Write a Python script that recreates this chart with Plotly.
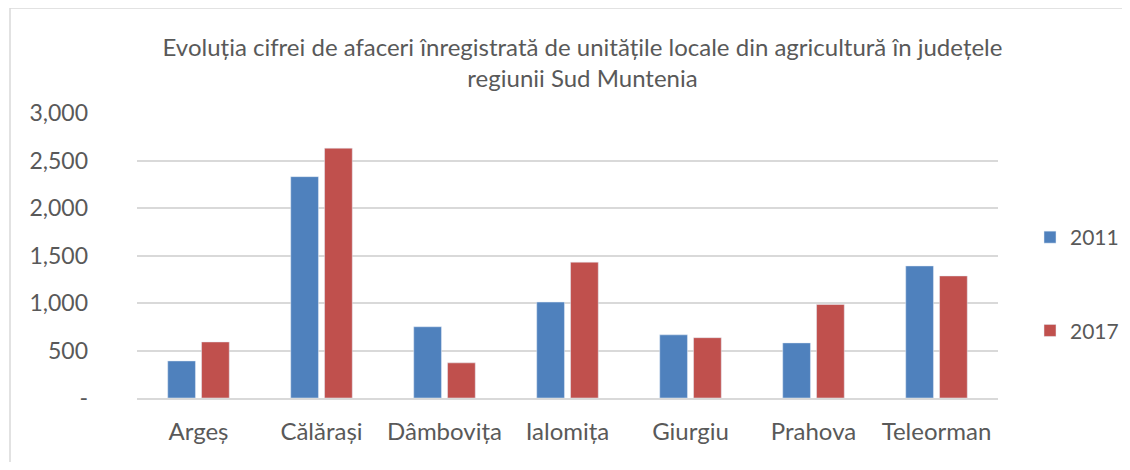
import plotly.graph_objects as go

categories = ["Argeș", "Călărași", "Dâmbovița", "Ialomița", "Giurgiu", "Prahova", "Teleorman"]
values_2011 = [390, 2330, 750, 1010, 665, 580, 1390]
values_2017 = [590, 2630, 370, 1430, 635, 985, 1285]
tick_vals = [0, 500, 1000, 1500, 2000, 2500, 3000]
tick_text = ["-", "500", "1,000", "1,500", "2,000", "2,500", "3,000"]

OFF = 8  # page body margin
W, H = 1130 - OFF, 470 - 2 * OFF
# target plot area in window pixels: x 137..998, y 113..398
L, T = 137 - OFF, 113 - OFF
R = W - (998 - OFF)
B = H - (398 - OFF)
pw, ph = W - L - R, H - T - B

def px(x):
    return (x - OFF - L) / pw

def py(y):
    return (H - B - (y - OFF)) / ph

font = "Lato, 'Open Sans', sans-serif"
gray = "#595959"

fig = go.Figure()
fig.add_trace(go.Bar(x=categories, y=values_2011, name="2011", marker_color="#4F81BD",
                     legendgroup="a"))
fig.add_trace(go.Bar(x=categories, y=values_2017, name="2017", marker_color="#C0504D",
                     legendgroup="b"))

fig.update_layout(
    width=W, height=H,
    margin=dict(l=L, r=R, t=T, b=B, autoexpand=False),
    paper_bgcolor="white", plot_bgcolor="white",
    barmode="group", bargap=0.45, bargroupgap=0.18,
    title=dict(text="Evoluția cifrei de afaceri înregistrată de unitățile locale din agricultură în județele<br>regiunii Sud Muntenia",
               xref="container", x=(582.5 - OFF) / W, xanchor="center",
               y=1 - (56 - OFF) / H, yanchor="middle",
               font=dict(family=font, size=24, color=gray)),
    font=dict(family=font, color=gray),
    xaxis=dict(tickfont=dict(size=24, color=gray), showline=True, linecolor="#D9D9D9",
               linewidth=1.5, ticks="", showgrid=False, ticklabelstandoff=11,
               automargin=False),
    yaxis=dict(range=[0, 3000], tickvals=tick_vals, ticktext=tick_text,
               tickfont=dict(size=23, color=gray), showgrid=True, gridcolor="#D9D9D9",
               gridwidth=1.5, zeroline=False, ticks="", ticklabelstandoff=48,
               automargin=False),
    legend=dict(x=px(1030), y=py(217), xanchor="left", yanchor="top",
                font=dict(size=21, color=gray), tracegroupgap=63, itemwidth=30),
    shapes=[
        dict(type="line", xref="paper", yref="paper", x0=px(10), x1=px(1135), y0=py(8), y1=py(8),
             line=dict(color="#D9D9D9", width=1.5)),
        dict(type="line", xref="paper", yref="paper", x0=px(10), x1=px(10), y0=py(8), y1=py(475),
             line=dict(color="#D9D9D9", width=1.5)),
    ],
)

fig.write_html("out.html")
